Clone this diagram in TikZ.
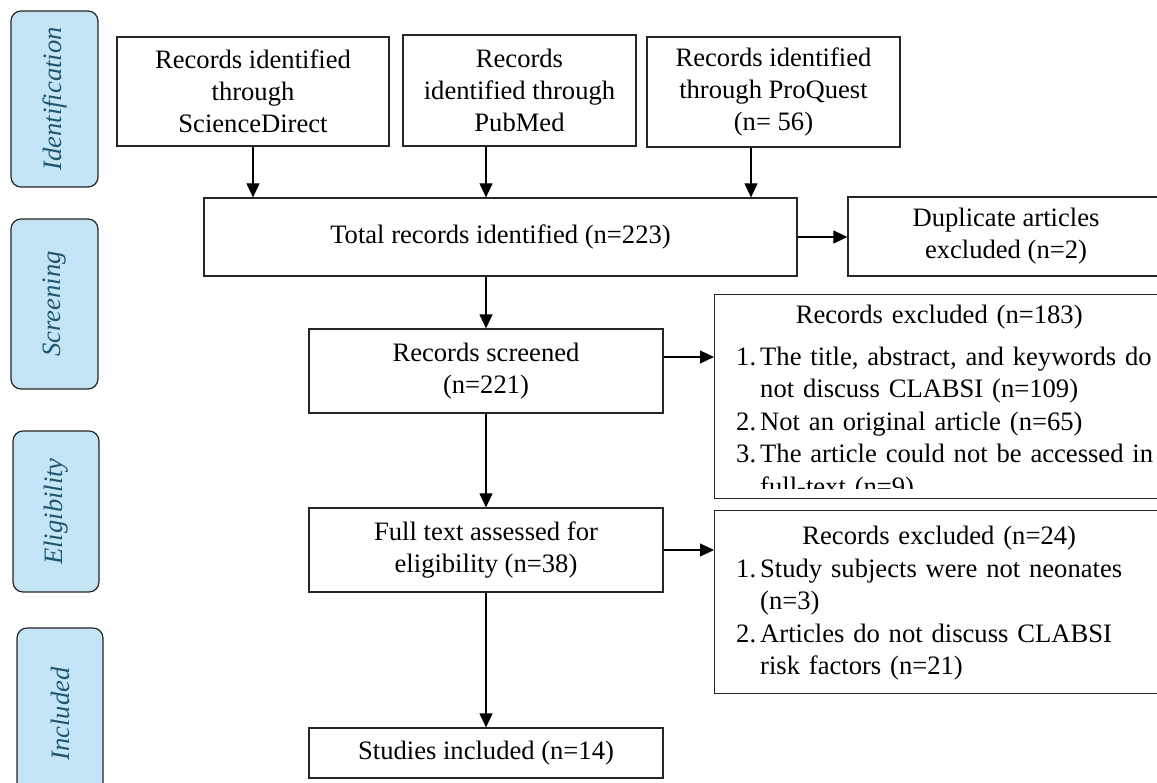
\documentclass[tikz,border=0pt]{standalone}
\usepackage{fontspec}
\setmainfont{Liberation Serif}
\usetikzlibrary{arrows.meta}
\definecolor{phasefill}{HTML}{C4E5F5}
\definecolor{phasetext}{HTML}{1F5570}
\newcommand{\exitem}[2]{\par\noindent\hangindent=24pt\hangafter=1\makebox[24pt][l]{#1}#2}
\newcommand{\extitle}[1]{\noindent\hbox to 406pt{\hfil #1\hfil}\par}

\begin{document}
\begin{tikzpicture}[x=1pt,y=-1pt,
  box/.style={draw=black!85,line width=1.2pt,inner sep=0pt,align=center,font=\fontsize{26.6}{32}\selectfont},
  phase/.style={draw=black!85,line width=1.2pt,fill=phasefill,rounded corners=10pt,rotate=90,inner sep=0pt,text=phasetext,font=\fontsize{26.6}{31.5}\selectfont\itshape},
  arr/.style={line width=1.1pt,-{Triangle[length=14pt,width=13pt]}},
  listtext/.style={inner sep=0pt,text width=430pt,font=\fontsize{26.6}{32.5}\selectfont}]
\useasboundingbox (0,0) rectangle (1157,783);

% phases
\node[phase,minimum width=176pt,minimum height=87pt] (ident) at (54.5,99) {Identification};
\node[phase,minimum width=170pt,minimum height=87pt] (screen) at (54.5,304) {Screening};
\node[phase,minimum width=161pt,minimum height=86pt] (elig) at (56,511.5) {Eligibility};
\node[phase,minimum width=172pt,minimum height=86pt] (incl) at (60,714) {Included};

% sources
\node[box,minimum width=272pt,minimum height=109pt] (sd) at (253,91.5) {Records identified\\through\\ScienceDirect};
\node[box,minimum width=233pt,minimum height=111pt] (pubmed) at (519.5,90.5) {Records\\identified through\\PubMed};
\node[box,minimum width=253pt,minimum height=110pt] (proquest) at (773.5,92) {Records identified\\through ProQuest\\(n= 56)};

\node[box,minimum width=593pt,minimum height=78pt] (total) at (500.5,237) {Total records identified (n=223)};
\node[box,minimum width=316pt,minimum height=79pt] (dup) at (1006,236.5) {Duplicate articles\\excluded (n=2)};

\node[box,minimum width=354pt,minimum height=84pt] (screened) at (486,371) {Records screened\\(n=221)};
\node[box,minimum width=354pt,minimum height=84pt] (fulltext) at (486,550) {Full text assessed for\\eligibility (n=38)};
\node[box,minimum width=354pt,minimum height=50pt] (studies) at (486,753) {Studies included (n=14)};

% exclusion boxes
\node[box,minimum width=450pt,minimum height=204pt,anchor=north west] (ex1) at (714,294) {};
\begin{scope}
\clip (ex1.north west) rectangle ([yshift=11pt]ex1.south east);
\node[listtext,anchor=north west] (ex1txt) at ([xshift=22pt,yshift=-11pt]ex1.north west) {%
\extitle{Records excluded (n=183)}\vspace{9pt}
\raggedright
\exitem{1.}{The title, abstract, and keywords do\newline not discuss CLABSI (n=109)}
\exitem{2.}{Not an original article (n=65)}
\exitem{3.}{The article could not be accessed in\newline full-text (n=9)}\par};
\end{scope}

\node[box,minimum width=450pt,minimum height=183pt,anchor=north west] (ex2) at (714,510) {};
\node[listtext,anchor=north west] (ex2txt) at ([xshift=22pt,yshift=-16pt]ex2.north west) {%
\extitle{Records excluded (n=24)}
\raggedright
\exitem{1.}{Study subjects were not neonates\newline(n=3)}
\exitem{2.}{Articles do not discuss CLABSI\newline risk factors (n=21)}\par};

% arrows
\draw[arr] (sd.south) -- (sd.south |- total.north);
\draw[arr] (pubmed.south -| screened) -- (total.north -| screened);
\draw[arr] ([xshift=-22.5pt]proquest.south) -- ([xshift=-22.5pt]proquest.south |- total.north);
\draw[arr] (total.east) -- (total.east -| dup.west);
\draw[arr] (total.south -| screened) -- (screened.north);
\draw[arr] ([yshift=14pt]screened.east) -- ([yshift=14pt]screened.east -| ex1.west);
\draw[arr] (screened.south) -- (fulltext.north);
\draw[arr] (fulltext.east) -- (fulltext.east -| ex2.west);
\draw[arr] (fulltext.south) -- (studies.north);
\end{tikzpicture}
\end{document}
